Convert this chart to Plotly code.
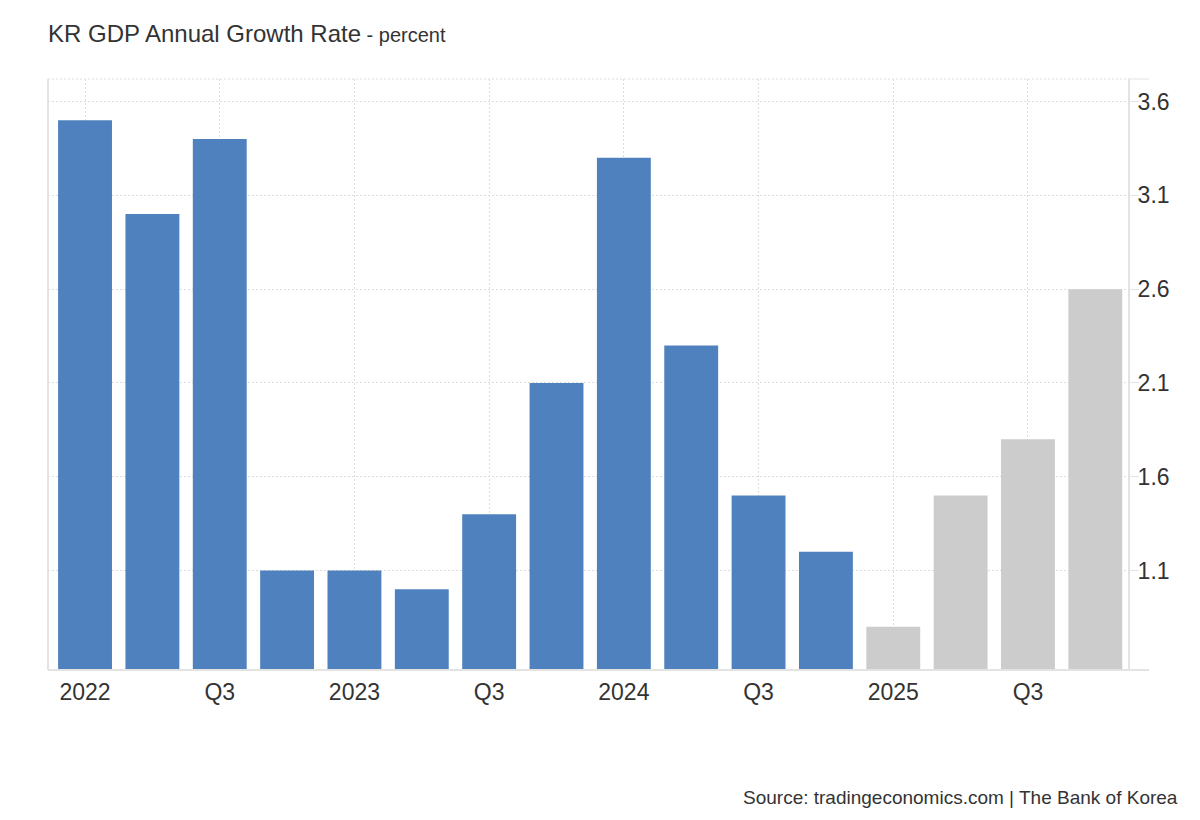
import plotly.graph_objects as go

quarters = ["2022 Q1", "2022 Q2", "2022 Q3", "2022 Q4",
            "2023 Q1", "2023 Q2", "2023 Q3", "2023 Q4",
            "2024 Q1", "2024 Q2", "2024 Q3", "2024 Q4",
            "2025 Q1", "2025 Q2", "2025 Q3", "2025 Q4"]
growth = [3.5, 3.0, 3.4, 1.1, 1.1, 1.0, 1.4, 2.1, 3.3, 2.3, 1.5, 1.2, 0.8, 1.5, 1.8, 2.6]
forecast = [False] * 12 + [True] * 4
tick_labels = ["2022", "Q3", "2023", "Q3", "2024", "Q3", "2025", "Q3"]
y_ticks = [1.1, 1.6, 2.1, 2.6, 3.1, 3.6]

BLUE = "#4e81bd"
GREY = "#cccccc"
GRID = "#dcdcdc"
AXIS = "#e3e3e3"
TEXT = "#333333"
FONT = "Liberation Sans, Arial, sans-serif"
DOTS = "2px,2px"

xs = list(range(len(quarters)))
colors = [GREY if f else BLUE for f in forecast]

fig = go.Figure(go.Bar(
    x=xs, y=growth, marker=dict(color=colors, line=dict(width=0)),
    hovertext=quarters, hoverinfo="text+y",
))

fig.update_layout(
    width=1200, height=820,
    margin=dict(l=48, r=71, t=79, b=150),
    paper_bgcolor="white", plot_bgcolor="white",
    bargap=0.2, showlegend=False,
    font=dict(family=FONT, color=TEXT),
    title=dict(
        text="KR GDP Annual Growth Rate<span style='font-size:20px'> - percent</span>",
        x=48 / 1200, xanchor="left", y=1 - 34 / 820, yanchor="middle",
        font=dict(size=24, color=TEXT, family=FONT),
    ),
)

fig.update_xaxes(
    range=[-0.55, len(quarters) - 0.5],
    tickmode="array", tickvals=xs[::2], ticktext=tick_labels,
    tickfont=dict(size=23, color=TEXT),
    showgrid=True, gridcolor=GRID, griddash=DOTS, gridwidth=1,
    showline=False, zeroline=False, ticks="", ticklabelstandoff=6,
)
fig.update_yaxes(
    side="right", range=[0.57, 3.72],
    tickmode="array", tickvals=y_ticks, ticktext=[f"{v:.1f}" for v in y_ticks],
    tickfont=dict(size=23, color=TEXT),
    showgrid=True, gridcolor=GRID, griddash=DOTS, gridwidth=1,
    showline=False, zeroline=False,
    ticks="outside", ticklen=9, tickcolor=AXIS, tickwidth=1,
    ticklabelstandoff=-6,
)

# frame: dotted top, solid left/right/bottom
fig.add_shape(type="line", xref="paper", yref="paper", x0=0, x1=1, y0=1, y1=1,
              line=dict(color=GRID, width=1, dash=DOTS))
fig.add_shape(type="line", xref="paper", yref="paper", x0=1, x1=1.0185, y0=1, y1=1,
              line=dict(color=AXIS, width=1))
fig.add_shape(type="line", xref="paper", yref="paper", x0=0, x1=0, y0=0, y1=1,
              line=dict(color=AXIS, width=2))
fig.add_shape(type="line", xref="paper", yref="paper", x0=1, x1=1, y0=0, y1=1,
              line=dict(color=AXIS, width=2))
fig.add_shape(type="line", xref="paper", yref="paper", x0=0, x1=1.0185, y0=0, y1=0,
              line=dict(color=AXIS, width=2))

plot_w = 1200 - 48 - 71
plot_h = 820 - 79 - 150
fig.add_annotation(
    text="Source: tradingeconomics.com | The Bank of Korea",
    xref="paper", yref="paper",
    x=(1180 - 48) / plot_w, xanchor="right",
    y=(820 - 150 - 797) / plot_h, yanchor="middle",
    showarrow=False,
    font=dict(size=19, color=TEXT, family=FONT),
)

fig.write_html("out.html", config={"displayModeBar": False},
               post_script="document.body.style.margin='0';")
